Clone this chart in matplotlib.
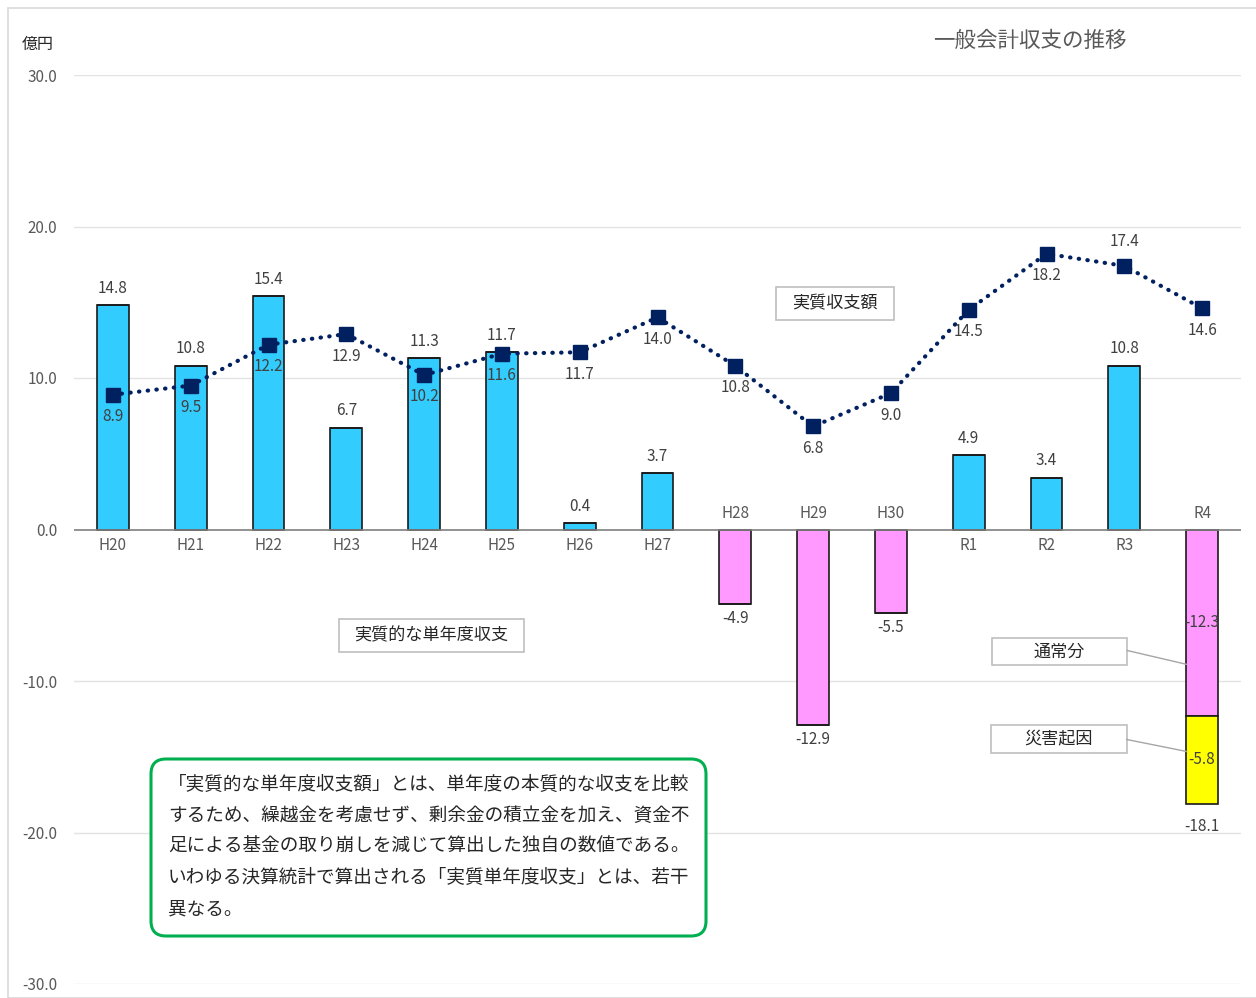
import numpy as np
import matplotlib
matplotlib.use('Agg')
import matplotlib.pyplot as plt
from matplotlib.patches import Rectangle, FancyBboxPatch

plt.rcParams['font.family'] = ['Noto Sans CJK JP', 'DejaVu Sans']

# data
years = ['H20', 'H21', 'H22', 'H23', 'H24', 'H25', 'H26', 'H27',
         'H28', 'H29', 'H30', 'R1', 'R2', 'R3', 'R4']
single_year = [14.8, 10.8, 15.4, 6.7, 11.3, 11.7, 0.4, 3.7,
               -4.9, -12.9, -5.5, 4.9, 3.4, 10.8, -12.3]
disaster = [0, 0, 0, 0, 0, 0, 0, 0, 0, 0, 0, 0, 0, 0, -5.8]
real_balance = [8.9, 9.5, 12.2, 12.9, 10.2, 11.6, 11.7, 14.0,
                10.8, 6.8, 9.0, 14.5, 18.2, 17.4, 14.6]
line_label_above = ['R3']
yticks = [30, 20, 10, 0, -10, -20, -30]
note_lines = [
    '「実質的な単年度収支額」とは、単年度の本質的な収支を比較',
    'するため、繰越金を考慮せず、剰余金の積立金を加え、資金不',
    '足による基金の取り崩しを減じて算出した独自の数値である。',
    'いわゆる決算統計で算出される「実質単年度収支」とは、若干',
    '異なる。',
]

W, H = 1256, 998
fig = plt.figure(figsize=(W / 100, H / 100), dpi=100)
ax = fig.add_axes([74 / W, 1 - 984 / H, (1241 - 74) / W, (984 - 75) / H])

x = np.arange(len(years))
txt = '#404040'
grey = '#595959'

# outer frame
fig.patches.append(Rectangle((8 / W, 0), 1, 1 - 8 / H, transform=fig.transFigure,
                             fill=False, edgecolor='#D9D9D9', linewidth=1.2))

# grid
for t in yticks:
    if t != 0:
        ax.axhline(t, color='#E3E3E3', linewidth=1, zorder=0)
ax.axhline(0, color='#7F7F7F', linewidth=1.2, zorder=3)

colors = ['#33CCFF' if v >= 0 else '#FF99FF' for v in single_year]
ax.bar(x, single_year, width=0.41, color=colors, edgecolor='#1A1A1A', linewidth=1.2, zorder=2)
ax.bar(x, disaster, bottom=single_year, width=0.41, color='#FFFF00',
       edgecolor='#1A1A1A', linewidth=1.2, zorder=2)

ax.plot(x, real_balance, color='#002060', linewidth=3, linestyle=(0, (0.1, 2.0)),
        dash_capstyle='round', marker='s', markersize=9.5, zorder=5)

fs = 11
# labels
for i, (name, v, d) in enumerate(zip(years, single_year, disaster)):
    total = v + d
    if d != 0:
        ax.text(i, v / 2, f'{v:.1f}', ha='center', va='center', fontsize=fs, color=txt, zorder=6)
        ax.text(i, v + d / 2, f'{d:.1f}', ha='center', va='center', fontsize=fs, color=txt, zorder=6)
        ax.annotate(f'{total:.1f}', (i, total), xytext=(0, -23), textcoords='offset pixels',
                    ha='center', va='center', fontsize=fs, color=txt)
    elif total >= 0:
        ax.annotate(f'{total:.1f}', (i, total), xytext=(0, 17), textcoords='offset pixels',
                    ha='center', va='center', fontsize=fs, color=txt)
    else:
        ax.annotate(f'{total:.1f}', (i, total), xytext=(0, -15), textcoords='offset pixels',
                    ha='center', va='center', fontsize=fs, color=txt)
    # category label on the other side of the axis
    off = 16 if total < 0 else -16
    ax.annotate(name, (i, 0), xytext=(0, off), textcoords='offset pixels',
                ha='center', va='center', fontsize=fs, color=grey)

for i, (name, v) in enumerate(zip(years, real_balance)):
    off = 24 if name in line_label_above else -22
    ax.annotate(f'{v:.1f}', (i, v), xytext=(0, off), textcoords='offset pixels',
                ha='center', va='center', fontsize=fs, color=txt, zorder=6)

ax.set_xlim(-0.5, len(years) - 0.5)
ax.set_ylim(-30, 30)
ax.set_yticks(yticks)
ax.set_yticklabels([f'{t:.1f}' for t in yticks], color=grey, fontsize=fs)
ax.tick_params(axis='y', length=0, pad=12)
ax.set_xticks([])
for s in ax.spines.values():
    s.set_visible(False)

# callout boxes (data coords)
def callout(cx, cy, w, h, label):
    ax.add_patch(Rectangle((cx - w / 2, cy - h / 2), w, h, facecolor='white',
                           edgecolor='#BFBFBF', linewidth=1.2, zorder=6))
    ax.text(cx, cy, label, ha='center', va='center', fontsize=12.3, color='#262626', zorder=7)

callout(9.28, 14.92, 1.52, 2.18, '実質収支額')
callout(4.09, -7.0, 2.38, 2.18, '実質的な単年度収支')
callout(12.17, -8.05, 1.74, 1.78, '通常分')
callout(12.16, -13.8, 1.75, 1.85, '災害起因')
ax.plot([13.04, 13.8], [-7.99, -8.9], color='#A6A6A6', linewidth=1, zorder=6)
ax.plot([13.03, 13.8], [-13.86, -14.65], color='#A6A6A6', linewidth=1, zorder=6)

# note box
fig.patches.append(FancyBboxPatch((1.51, 0.62), 5.55, 1.77, boxstyle='round,pad=0,rounding_size=0.15',
                                  transform=fig.dpi_scale_trans, facecolor='white',
                                  edgecolor='#00B050', linewidth=2.2))
for k, line in enumerate(note_lines):
    fig.text(168 / W, 1 - (785 + 31 * k) / H, line, ha='left', va='center',
             fontsize=13.4, color='#262626')

fig.text(1030 / W, 1 - 41 / H, '一般会計収支の推移', ha='center', va='center',
         fontsize=15.5, color=grey)
fig.text(22 / W, 1 - 44 / H, '億円', ha='left', va='center', fontsize=11.5, color='#262626')

fig.savefig('out.png', dpi=100)
